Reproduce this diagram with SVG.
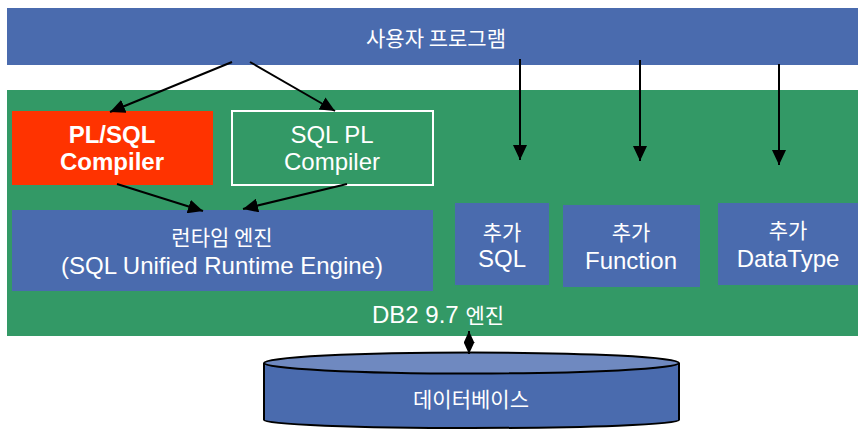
<svg xmlns="http://www.w3.org/2000/svg" width="858" height="430" viewBox="0 0 858 430">
<style>
.blue{fill:#4A6BAE}
.t{fill:#fff;font-family:"Liberation Sans","Noto Sans CJK KR",Arial,sans-serif;font-size:24px;text-anchor:middle}
.k{font-family:"Noto Sans CJK KR","Liberation Sans",sans-serif;font-size:21px}
.c{stroke:#000;stroke-width:2;fill:none}
</style>
<defs>
<marker id="ah" viewBox="0 0 15 14" refX="15" refY="7" markerWidth="15" markerHeight="14" markerUnits="userSpaceOnUse" orient="auto">
<path d="M0,0 L15,7 L0,14 Z" fill="#000"/>
</marker>
<marker id="sh" viewBox="0 0 12 11" refX="12" refY="5.5" markerWidth="12" markerHeight="11" markerUnits="userSpaceOnUse" orient="auto-start-reverse">
<path d="M0,0 L12,5.5 L0,11 Z" fill="#000"/>
</marker>
</defs>
<g id="engine">
<rect x="7" y="90" width="851" height="246" fill="#339966"/>
<text class="t" x="438" y="323" font-size="22">DB2 9.7 <tspan class="k">엔진</tspan></text>
</g>
<g id="program">
<rect class="blue" x="7" y="8" width="851" height="57"/>
<text class="t k" x="436" y="46">사용자 프로그램</text>
</g>
<g id="plsql">
<rect x="12" y="111" width="201" height="74" fill="#FF3300"/>
<text class="t" x="112" y="143" font-weight="bold">PL/SQL</text>
<text class="t" x="112" y="170" font-weight="bold">Compiler</text>
</g>
<g id="sqlpl">
<rect x="232" y="111" width="201" height="74" fill="none" stroke="#fff" stroke-width="2"/>
<text class="t" x="332" y="143">SQL PL</text>
<text class="t" x="332" y="170">Compiler</text>
</g>
<g id="runtime">
<rect class="blue" x="12" y="210" width="421" height="81"/>
<text class="t k" x="222" y="245">런타임 엔진</text>
<text class="t" x="222" y="274">(SQL Unified Runtime Engine)</text>
</g>
<g id="addsql">
<rect class="blue" x="455" y="203" width="94" height="82"/>
<text class="t k" x="502" y="240">추가</text>
<text class="t" x="502" y="267">SQL</text>
</g>
<g id="addfunc">
<rect class="blue" x="563" y="205" width="137" height="82"/>
<text class="t k" x="631" y="240">추가</text>
<text class="t" x="631" y="269">Function</text>
</g>
<g id="adddt">
<rect class="blue" x="718" y="203" width="140" height="82"/>
<text class="t k" x="788" y="238">추가</text>
<text class="t" x="788" y="267">DataType</text>
</g>
<g id="database">
<path d="M264,363 L264,420 A207.5,8 0 0 0 679,420 L679,363" fill="#4A6BAE" stroke="#000" stroke-width="2"/>
<ellipse cx="471.5" cy="363" rx="207.5" ry="10.5" fill="#6F89C0" stroke="#000" stroke-width="2"/>
<text class="t k" x="471" y="407">데이터베이스</text>
</g>
<g id="connectors">
<line class="c" x1="232" y1="62" x2="110" y2="112" marker-end="url(#ah)"/>
<line class="c" x1="250" y1="62" x2="335" y2="111" marker-end="url(#ah)"/>
<line class="c" x1="117" y1="184" x2="203" y2="211" marker-end="url(#ah)"/>
<line class="c" x1="347" y1="184" x2="243" y2="209" marker-end="url(#ah)"/>
<line class="c" x1="520" y1="59" x2="520" y2="160" marker-end="url(#ah)"/>
<line class="c" x1="640" y1="60" x2="640" y2="161" marker-end="url(#ah)"/>
<line class="c" x1="779" y1="64" x2="779" y2="165" marker-end="url(#ah)"/>
<line class="c" x1="469" y1="331" x2="469" y2="354" marker-start="url(#sh)" marker-end="url(#sh)"/>
</g>
</svg>
